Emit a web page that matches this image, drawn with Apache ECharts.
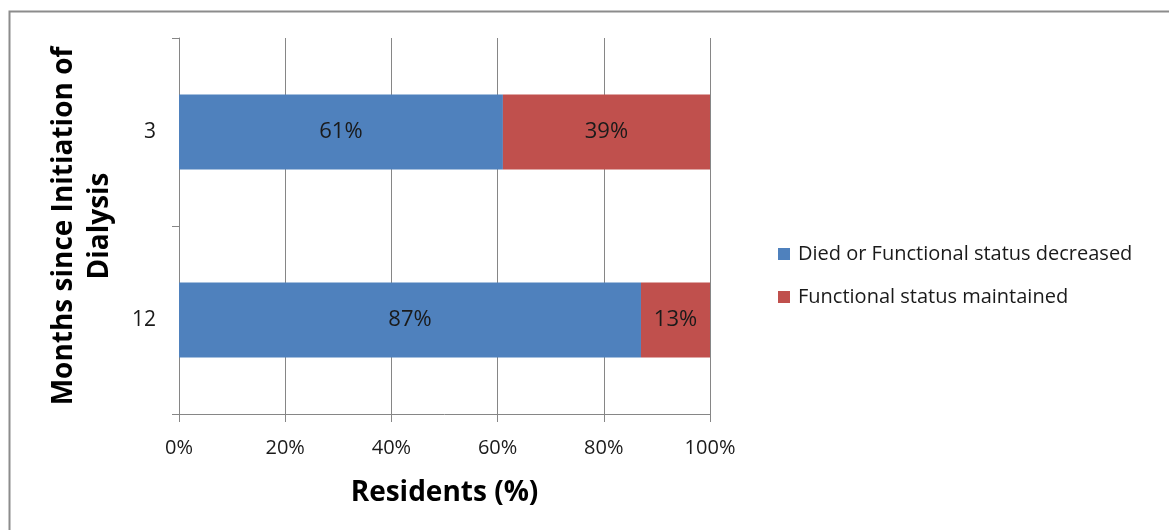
<!DOCTYPE html>
<html>
<head>
<meta charset="utf-8">
<script src="https://cdn.jsdelivr.net/npm/echarts@6/dist/echarts.min.js"></script>
<style>
  html, body { margin: 0; padding: 0; background: #fff; }
  #chart { width: 1169px; height: 530px; }
</style>
</head>
<body>
<div id="chart"></div>
<script>
// Months since initiation of dialysis (rows, top to bottom)
const categories = ['3', '12'];
// Share of residents (%) per outcome
const diedOrDecreased = [61, 87];
const maintained = [39, 13];
const seriesNames = ['Died or Functional status decreased', 'Functional status maintained'];
const xTicks = [0, 20, 40, 60, 80, 100];

const FONT = '"Open Sans", Lato, sans-serif';
const chart = echarts.init(document.getElementById('chart'), null, { renderer: 'canvas' });

const labelStyle = {
  show: true,
  position: 'inside',
  color: '#1a1a1a',
  fontFamily: FONT,
  fontSize: 22,
  formatter: p => p.value + '%'
};

chart.setOption({
  animation: false,
  backgroundColor: '#fff',
  graphic: [{
    type: 'rect',
    shape: { x: 9.5, y: 11.5, width: 1300, height: 700 },
    style: { fill: 'none', stroke: '#8c8c8c', lineWidth: 2 },
    silent: true
  }],
  grid: { left: 179, right: 459, top: 38, bottom: 116, containLabel: false },
  legend: {
    orient: 'vertical',
    left: 773,
    top: 239,
    itemWidth: 12,
    itemHeight: 12,
    itemGap: 23,
    icon: 'rect',
    textStyle: { fontFamily: FONT, fontSize: 20, color: '#1a1a1a', padding: [0, 0, 0, 3] },
    data: seriesNames
  },
  xAxis: {
    type: 'value',
    min: xTicks[0],
    max: xTicks[xTicks.length - 1],
    interval: 20,
    name: 'Residents (%)',
    nameLocation: 'middle',
    nameGap: 65,
    nameTextStyle: { fontFamily: FONT, fontSize: 28, fontWeight: 'bold', color: '#000' },
    axisLine: { show: true, lineStyle: { color: '#868686', width: 1 } },
    axisTick: { show: true, length: 8, lineStyle: { color: '#868686' } },
    axisLabel: {
      fontFamily: FONT, fontSize: 20, color: '#1a1a1a', margin: 24,
      formatter: v => v + '%'
    },
    splitLine: { show: true, lineStyle: { color: '#868686', width: 1 } }
  },
  yAxis: {
    type: 'category',
    inverse: true,
    data: categories,
    name: 'Months since Initiation of\nDialysis',
    nameLocation: 'middle',
    nameGap: 61,
    nameRotate: 90,
    nameTextStyle: { fontFamily: FONT, fontSize: 28, fontWeight: 'bold', color: '#000', lineHeight: 36 },
    axisLine: { show: true, lineStyle: { color: '#868686', width: 1 } },
    axisTick: { show: true, length: 7, lineStyle: { color: '#868686' } },
    axisLabel: { fontFamily: FONT, fontSize: 21, color: '#1a1a1a', margin: 23 }
  },
  series: [
    {
      name: seriesNames[0],
      type: 'bar',
      stack: 'total',
      data: diedOrDecreased,
      barCategoryGap: '60%',
      itemStyle: { color: '#4F81BD' },
      label: labelStyle
    },
    {
      name: seriesNames[1],
      type: 'bar',
      stack: 'total',
      data: maintained,
      barCategoryGap: '60%',
      itemStyle: { color: '#C0504D' },
      label: labelStyle
    }
  ]
});
</script>
</body>
</html>
